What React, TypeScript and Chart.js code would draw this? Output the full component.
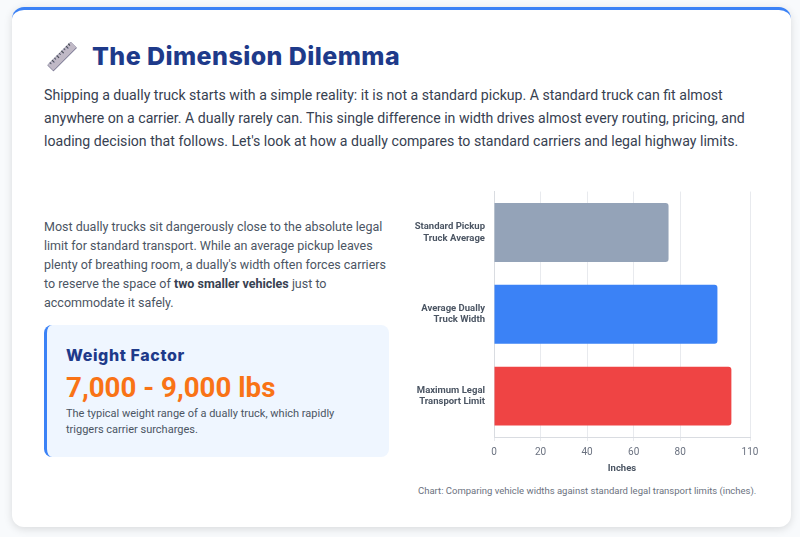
import React, { useEffect, useRef } from "react";
import { Chart, registerables } from "chart.js";

Chart.register(...registerables);

const categories = [
  ["Standard Pickup", "Truck Average"],
  ["Average Dually", "Truck Width"],
  ["Maximum Legal", "Transport Limit"],
];
const widths = [75, 96, 102];
const barColors = ["#94a3b8", "#3b82f6", "#ef4444"];
const tickValues = [0, 20, 40, 60, 80, 110];

const abs = (left: number, top: number, extra: React.CSSProperties = {}): React.CSSProperties => ({
  position: "absolute",
  left,
  top,
  margin: 0,
  ...extra,
});

export default function App() {
  const ref = useRef<HTMLCanvasElement>(null);
  useEffect(() => {
    document.body.style.margin = "0";
    document.body.style.overflow = "hidden";
    const chart = new Chart(ref.current!, {
      type: "bar",
      data: {
        labels: categories,
        datasets: [
          {
            label: "Width (Inches)",
            data: widths,
            backgroundColor: barColors,
            borderRadius: 3,
          },
        ],
      },
      options: {
        indexAxis: "y",
        responsive: false,
        animation: false,
        maintainAspectRatio: false,
        layout: { padding: { top: 7, right: 20, bottom: 0, left: 0 } },
        plugins: { legend: { display: false }, tooltip: { enabled: false } },
        scales: {
          x: {
            min: 0,
            max: 110,
            afterBuildTicks: (axis: any) => {
              axis.ticks = tickValues.map((value) => ({ value }));
            },
            afterFit: (axis: any) => {
              axis.height = 43;
            },
            grid: { color: "#e8eaee", drawTicks: true, tickLength: 4 },
            border: { color: "#d9dce1" },
            ticks: {
              autoSkip: false,
              maxRotation: 0,
              padding: 5,
              color: "#6b7280",
              font: { family: "Roboto", size: 10 },
            },
            title: {
              display: true,
              text: "Inches",
              color: "#4b5563",
              padding: { top: 3, bottom: 6 },
              font: { family: "Roboto", size: 9.5, weight: "bold" },
            },
          },
          y: {
            afterFit: (axis: any) => {
              axis.width = 94;
            },
            grid: { display: false },
            border: { color: "#d9dce1" },
            ticks: {
              autoSkip: false,
              padding: 1,
              color: "#4b5563",
              font: { family: "Roboto", size: 9.5, weight: "bold", lineHeight: 1.22 },
            },
          },
        },
      },
    });
    return () => chart.destroy();
  }, []);

  return (
    <div style={{ position: "relative", width: 800, height: 537, background: "#f8fafc", overflow: "hidden", fontFamily: "Roboto" }}>
      <div
        style={{
          position: "absolute",
          left: 12,
          top: 7,
          width: 779,
          height: 520,
          boxSizing: "border-box",
          background: "#ffffff",
          borderTop: "3px solid #3b82f6",
          borderRadius: 12,
          boxShadow: "0 2px 8px rgba(0,0,0,0.13)",
        }}
      />
      <div
        style={abs(46, 37, {
          fontSize: 27,
          lineHeight: "40px",
          fontFamily: "'Noto Color Emoji', Roboto",
          transform: "scaleX(-1)",
          filter: "hue-rotate(200deg) saturate(0.22) brightness(0.92)",
        })}
      >
        📏
      </div>
      <h1
        style={abs(92, 40, {
          fontFamily: "Inter",
          fontWeight: 800,
          fontSize: 25,
          letterSpacing: 0.43,
          lineHeight: "32px",
          color: "#1e3a8a",
          whiteSpace: "nowrap",
        })}
      >
        The Dimension Dilemma
      </h1>
      <p style={abs(44, 84, { width: 720, fontSize: 14.13, lineHeight: "23px", color: "#374151" })}>
        Shipping a dually truck starts with a simple reality: it is not a standard pickup. A standard truck can fit almost
        anywhere on a carrier. A dually rarely can. This single difference in width drives almost every routing, pricing, and
        loading decision that follows. Let's look at how a dually compares to standard carriers and legal highway limits.
      </p>
      <p style={abs(44, 218, { width: 346, fontSize: 12.5, lineHeight: "18.9px", color: "#4b5563" })}>
        Most dually trucks sit dangerously close to the absolute legal limit for standard transport. While an average pickup
        leaves plenty of breathing room, a dually's width often forces carriers to reserve the space of{" "}
        <strong style={{ color: "#374151" }}>two smaller vehicles</strong> just to accommodate it safely.
      </p>
      <div
        style={{
          position: "absolute",
          left: 44,
          top: 325,
          width: 345,
          height: 132,
          boxSizing: "border-box",
          background: "#eff6ff",
          borderLeft: "3px solid #3b82f6",
          borderRadius: 8,
        }}
      />
      <div
        style={abs(66, 345, {
          fontFamily: "Inter",
          fontWeight: 800,
          fontSize: 16,
          letterSpacing: 0.6,
          lineHeight: "20px",
          color: "#1e3a8a",
          whiteSpace: "nowrap",
        })}
      >
        Weight Factor
      </div>
      <div style={abs(66, 370, { fontWeight: 700, fontSize: 27.7, lineHeight: "36px", color: "#f97316", whiteSpace: "nowrap" })}>
        7,000 - 9,000 lbs
      </div>
      <p style={abs(66, 406, { width: 300, fontSize: 11, lineHeight: "16px", color: "#4b5563" })}>
        The typical weight range of a dually truck, which rapidly triggers carrier surcharges.
      </p>
      <canvas ref={ref} width={370} height={301} style={{ position: "absolute", left: 400, top: 179, width: 370, height: 301 }} />
      <div style={abs(418, 483.5, { fontSize: 9.5, lineHeight: "13px", color: "#6b7280", whiteSpace: "nowrap" })}>
        Chart: Comparing vehicle widths against standard legal transport limits (inches).
      </div>
    </div>
  );
}
